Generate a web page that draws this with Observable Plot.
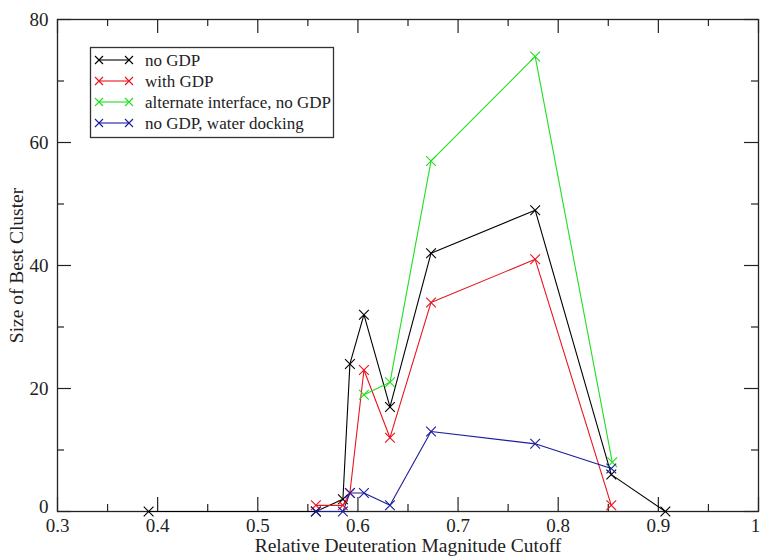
<!DOCTYPE html>
<html>
<head>
<meta charset="utf-8">
<script src="https://cdn.jsdelivr.net/npm/d3@7"></script>
<script src="https://cdn.jsdelivr.net/npm/@observablehq/plot@0.6"></script>
<style>
  html, body { margin: 0; padding: 0; background: #fff; }
  #wrap { position: relative; width: 761px; height: 558px; }
  #legend { position: absolute; left: 0; top: 0; }
  #wrap svg, #wrap svg text { font-family: "Liberation Serif", "Times New Roman", "DejaVu Serif", serif !important; }
  #wrap svg [aria-label="x-axis label"] text, #wrap svg [aria-label="y-axis label"] text { font-size: 19.5px; }
</style>
</head>
<body>
<div id="wrap"></div>
<script>
const seriesNames = ["no GDP", "with GDP", "alternate interface, no GDP", "no GDP, water docking"];
const seriesColors = ["#000000", "#e8141e", "#22dd22", "#1c1ca0"];

const noGdpX = [0.391, 0.558, 0.585, 0.592, 0.606, 0.632, 0.673, 0.777, 0.853, 0.907];
const noGdpY = [0, 0, 2, 24, 32, 17, 42, 49, 6, 0];

const withGdpX = [0.558, 0.585, 0.592, 0.606, 0.632, 0.673, 0.777, 0.853];
const withGdpY = [1, 1, 3, 23, 12, 34, 41, 1];

const altX = [0.606, 0.632, 0.673, 0.777, 0.854];
const altY = [19, 21, 57, 74, 8];

const waterX = [0.558, 0.585, 0.592, 0.606, 0.632, 0.673, 0.777, 0.853];
const waterY = [0, 0, 3, 3, 1, 13, 11, 7];

const xMajor = [0.3, 0.4, 0.5, 0.6, 0.7, 0.8, 0.9, 1.0];
const xMinor = [0.35, 0.45, 0.55, 0.65, 0.75, 0.85, 0.95];
const yMajor = [0, 20, 40, 60, 80];
const yMinor = [10, 30, 50, 70];
const xTickLabels = ["0.3", "0.4", "0.5", "0.6", "0.7", "0.8", "0.9", "1"];

const xs = [noGdpX, withGdpX, altX, waterX];
const ys = [noGdpY, withGdpY, altY, waterY];
const data = [];
xs.forEach((xa, i) => xa.forEach((x, j) => data.push({series: seriesNames[i], x, y: ys[i][j]})));

const fmtX = d => xTickLabels[xMajor.findIndex(v => Math.abs(v - d) < 1e-9)];

const W = 761, H = 558, ML = 57, MR = 3, MT = 19, MB = 47;
const innerW = W - ML - MR, innerH = H - MT - MB;
const big = 14, small = 7;

const chart = Plot.plot({
  width: W,
  height: H,
  marginLeft: ML,
  marginRight: MR,
  marginTop: MT,
  marginBottom: MB,
  style: {fontSize: "19px", color: "#222", background: "#fff"},
  x: {domain: [0.3, 1.0]},
  y: {domain: [0, 80]},
  color: {domain: seriesNames, range: seriesColors},
  marks: [
    // tick labels and axis titles
    Plot.axisX(xMajor.slice(0, -1), {anchor: "bottom", tickSize: 0, tickPadding: 7, tickFormat: fmtX, fill: "#222",
      label: "Relative Deuteration Magnitude Cutoff", labelAnchor: "center", labelArrow: "none", labelOffset: 40}),
    Plot.axisX(xMajor.slice(-1), {anchor: "bottom", tickSize: 0, tickPadding: 7, tickFormat: fmtX, fill: "#222",
      dx: -3, label: null}),
    Plot.axisY(yMajor.slice(1), {anchor: "left", tickSize: 0, tickPadding: 9, fill: "#222",
      label: "Size of Best Cluster", labelAnchor: "center", labelArrow: "none", labelOffset: 48}),
    Plot.axisY(yMajor.slice(0, 1), {anchor: "left", tickSize: 0, tickPadding: 9, fill: "#222", dy: -5, label: null}),
    // inward ticks
    Plot.tickX(xMajor, {x: d => d, insetTop: innerH - big, stroke: "#222", strokeWidth: 1.2}),
    Plot.tickX(xMinor, {x: d => d, insetTop: innerH - small, stroke: "#222", strokeWidth: 1.2}),
    Plot.tickX(xMajor, {x: d => d, insetBottom: innerH - big, stroke: "#222", strokeWidth: 1.2}),
    Plot.tickX(xMinor, {x: d => d, insetBottom: innerH - small, stroke: "#222", strokeWidth: 1.2}),
    Plot.tickY(yMajor, {y: d => d, insetRight: innerW - big, stroke: "#222", strokeWidth: 1.2}),
    Plot.tickY(yMinor, {y: d => d, insetRight: innerW - small, stroke: "#222", strokeWidth: 1.2}),
    Plot.tickY(yMajor, {y: d => d, insetLeft: innerW - big, stroke: "#222", strokeWidth: 1.2}),
    Plot.tickY(yMinor, {y: d => d, insetLeft: innerW - small, stroke: "#222", strokeWidth: 1.2}),
    Plot.frame({stroke: "#222", strokeWidth: 1.3}),
    // series
    Plot.line(data, {x: "x", y: "y", z: "series", stroke: "series", strokeWidth: 1.1}),
    Plot.dot(data, {x: "x", y: "y", stroke: "series", symbol: "times", r: 4.5, strokeWidth: 1.1})
  ]
});

const wrap = document.getElementById("wrap");
wrap.appendChild(chart);

// legend overlay
const lg = d3.select(wrap).append("svg")
  .attr("id", "legend")
  .attr("width", W).attr("height", H);
lg.append("rect").attr("x", 90.5).attr("y", 47.5).attr("width", 243).attr("height", 90)
  .attr("fill", "#fff").attr("stroke", "#333").attr("stroke-width", 1.3);
seriesNames.forEach((name, i) => {
  const cy = 60 + i * 21;
  const g = lg.append("g").attr("stroke", seriesColors[i]).attr("stroke-width", 1.1);
  g.append("line").attr("x1", 99).attr("x2", 129).attr("y1", cy).attr("y2", cy);
  [99, 129].forEach(cx => {
    g.append("path").attr("d", `M${cx-4},${cy-4}L${cx+4},${cy+4}M${cx-4},${cy+4}L${cx+4},${cy-4}`).attr("fill", "none");
  });
  lg.append("text").attr("x", 145).attr("y", cy).attr("dy", "0.35em")
    .attr("font-size", 17).attr("fill", "#222").text(name);
});
</script>
</body>
</html>
